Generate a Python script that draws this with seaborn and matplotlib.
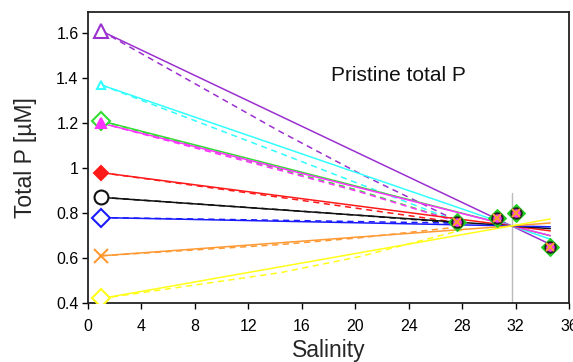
import numpy as np
import pandas as pd
import matplotlib
matplotlib.use("Agg")
import matplotlib.pyplot as plt
import seaborn as sns

sns.set_theme(style="ticks")
plt.rcParams["font.family"] = ["Liberation Sans", "DejaVu Sans"]

# River (freshwater) end-members at salinity 1
river_sal = 1.0
river_p = [1.61, 1.37, 1.21, 1.20, 0.98, 0.87, 0.78, 0.61, 0.42]
colors = ["#9B30D0", "#33FFFF", "#33DD33", "#FF33FF", "#FF1A1A",
          "#111111", "#1A1AFF", "#FF9933", "#FFFF1A"]
markers = ["^", "^", "D", "^", "D", "o", "D", "x", "D"]
filled = [False, False, False, True, True, False, False, True, False]
msizes = [10.5, 6, 9, 7.5, 7, 10, 9, 9.5, 9]

# Mixing lines: river -> ocean end-member (31.7, 0.743) -> extended to 34.6
mix_sal = [1.0, 31.7, 34.6]
mix_end = [0.661, 0.684, 0.699, 0.700, 0.721, 0.731, 0.739, 0.756, 0.774]
ocean_p = 0.743

# Curved (dashed) mixing paths, read at these salinities
dash_sal = [1.0, 14.4, 20.3, 28.0]
dash_purple = [1.61, 1.162, 0.977, 0.755]
dash_cyan = [1.37, 1.066, 0.930, 0.755]
dash_green = [1.21, 0.995, 0.900, 0.755]
dash_magenta = [1.20, 0.990, 0.895, 0.755]
dash_red = [0.98, 0.870, 0.820, 0.755]
dash_black = [0.87, 0.815, 0.790, 0.755]
dash_blue = [0.78, 0.768, 0.762, 0.755]
dash_orange = [0.61, 0.660, 0.690, 0.740]
dash_yellow = [0.42, 0.535, 0.606, 0.725]
dash_p = [dash_purple, dash_cyan, dash_green, dash_magenta, dash_red,
          dash_black, dash_blue, dash_orange, dash_yellow]

# Observations in the coastal zone
obs_sal = [27.6, 30.6, 32.0, 34.6]
obs_p = [0.762, 0.777, 0.800, 0.648]

ref_sal = 31.7
ref_top = 0.89

fig = plt.figure(figsize=(5.73, 3.62), dpi=100)
ax = fig.add_axes([0.1536, 0.163, 0.8394, 0.804])

ax.plot([ref_sal, ref_sal], [0.4, ref_top], color="#BBBBBB", lw=1.0, zorder=1)

for i, r in enumerate(river_p):
    c = colors[i]
    dashed = pd.DataFrame({"S": dash_sal, "P": dash_p[i]})
    sns.lineplot(data=dashed, x="S", y="P", color=c, lw=1.1, ax=ax,
                 sort=False, zorder=2, linestyle=(0, (4, 3)))
    solid = pd.DataFrame({"S": mix_sal, "P": [r, ocean_p, mix_end[i]]})
    sns.lineplot(data=solid, x="S", y="P", color=c, lw=1.1, ax=ax,
                 sort=False, zorder=3)

for i, r in enumerate(river_p):
    c = colors[i]
    m = markers[i]
    if m == "x":
        ax.plot([river_sal], [r], marker=m, color=c, ms=msizes[i],
                mew=1.5, ls="none", zorder=5)
    else:
        ax.plot([river_sal], [r], marker=m, ms=msizes[i], ls="none",
                mfc=c if filled[i] else "white", mec=c, mew=1.5, zorder=5)

# Observed stations (stacked symbols)
ax.plot(obs_sal, obs_p, marker="D", ms=9.5, mfc="#22CC22", mec="#22CC22",
        mew=0.8, ls="none", zorder=6)
ax.plot(obs_sal, obs_p, marker="o", ms=7.5, mfc="#FF33FF", mec="#222222",
        mew=1.4, ls="none", zorder=7)
ax.plot(obs_sal, obs_p, marker="x", ms=6, color="#FF9933", mew=1.5,
        ls="none", zorder=8)

ax.text(18.2, 1.414, "Pristine total P", fontsize=15, va="center",
        ha="left", color="#111111")

ax.set_xlim(0, 36)
ax.set_ylim(0.4, 1.695)
ax.set_xticks(np.arange(0, 37, 4))
ax.set_yticks([0.4, 0.6, 0.8, 1.0, 1.2, 1.4, 1.6])
ax.set_yticklabels(["0.4", "0.6", "0.8", "1", "1.2", "1.4", "1.6"])
ax.set_xlabel("Salinity", fontsize=16.5, labelpad=4)
ax.set_ylabel("Total P [µM]", fontsize=16.5, labelpad=14)
ax.tick_params(axis="both", labelsize=11.5, length=4.3, width=1,
               direction="out", colors="black")
ax.tick_params(axis="x", pad=7)
ax.tick_params(axis="y", pad=2.5)
for s in ax.spines.values():
    s.set_visible(True)
    s.set_linewidth(1.3)
    s.set_color("#222222")

fig.savefig("out.png", dpi=100)
